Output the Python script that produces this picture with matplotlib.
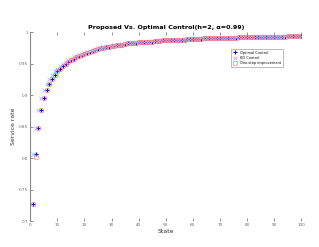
import matplotlib
matplotlib.use('Agg')
import matplotlib.pyplot as plt
import numpy as np

# 数据
states = list(range(1, 101))
optimal = [0.727, 0.806, 0.848, 0.876, 0.895, 0.908, 0.918, 0.926, 0.932, 0.938,
           0.942, 0.946, 0.950, 0.953, 0.955, 0.958, 0.960, 0.962, 0.964, 0.966,
           0.967, 0.969, 0.970, 0.971, 0.973, 0.974, 0.975, 0.976, 0.977, 0.978,
           0.978, 0.979, 0.980, 0.980, 0.981, 0.982, 0.982, 0.983, 0.983, 0.984,
           0.984, 0.984, 0.985, 0.985, 0.985, 0.986, 0.986, 0.986, 0.987, 0.987,
           0.987, 0.987, 0.988, 0.988, 0.988, 0.988, 0.988, 0.989, 0.989, 0.989,
           0.989, 0.989, 0.989, 0.990, 0.990, 0.990, 0.990, 0.990, 0.990, 0.991,
           0.991, 0.991, 0.991, 0.991, 0.991, 0.991, 0.992, 0.992, 0.992, 0.992,
           0.992, 0.992, 0.992, 0.992, 0.992, 0.993, 0.993, 0.993, 0.993, 0.993,
           0.993, 0.993, 0.993, 0.993, 0.994, 0.994, 0.994, 0.994, 0.994, 0.994]
# KD 控制大致领先一步
kd = optimal[1:] + [0.994]
one_step = list(optimal)
one_step[1] = 0.801

xticks = list(range(0, 101, 10))
yticks = [0.7, 0.75, 0.8, 0.85, 0.9, 0.95, 1.0]
ytick_labels = ['0.7', '0.75', '0.8', '0.85', '0.9', '0.95', '1']

fig = plt.figure(figsize=(3.19, 2.47), dpi=100)
ax = fig.add_axes([0.095, 0.105, 0.849, 0.765])

ax.plot(states, optimal, '+', color='#0000ff', ms=3.5, mew=0.8, label='Optimal Control')
ax.plot(states, kd, 'x', color='#8cc8ff', ms=3, mew=0.6, label='KD Control')
ax.plot(states, one_step, 'o', mfc='none', mec='#ff8080', ms=3.3, mew=0.5,
        label='One-step improvement')

ax.set_xlim(0, 100)
ax.set_ylim(0.7, 1.0)
ax.set_xticks(xticks)
ax.set_yticks(yticks)
ax.set_yticklabels(ytick_labels)
ax.tick_params(labelsize=3, direction='in', length=2, width=0.5,
               colors='#666666', top=True, right=False, pad=1.5)

for side in ['top', 'right', 'bottom']:
    ax.spines[side].set_visible(False)
ax.spines['left'].set_color('#888888')
ax.spines['left'].set_linewidth(0.8)

ax.set_title('Proposed Vs. Optimal Control(h=2, α=0.99)', fontsize=4.6,
             fontweight='bold', pad=2.5)
ax.set_xlabel('State', fontsize=4.4, labelpad=1.5, color='#333333')
ax.set_ylabel('Service rate', fontsize=4.4, labelpad=2, color='#333333')

leg = ax.legend(loc='upper right', bbox_to_anchor=(0.94, 0.92), fontsize=2.5,
                frameon=True, fancybox=False, edgecolor='#888888',
                handlelength=1.2, borderpad=0.5, labelspacing=0.4)
leg.get_frame().set_linewidth(0.5)

fig.savefig('out.png', dpi=100)
plt.close(fig)
